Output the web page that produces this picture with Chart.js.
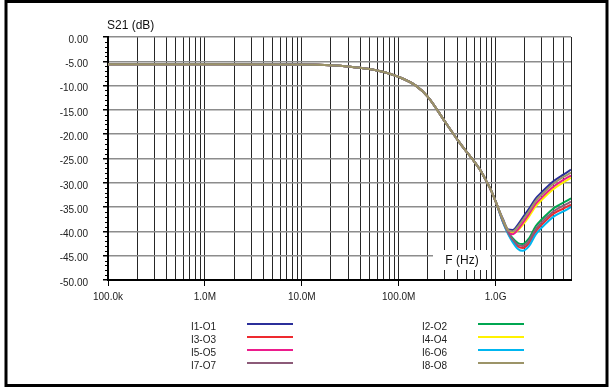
<!DOCTYPE html>
<html>
<head>
<meta charset="utf-8">
<script src="https://cdn.jsdelivr.net/npm/chart.js@4"></script>
<style>
  html, body { margin: 0; padding: 0; background: #fff; }
  #wrap { width: 613px; height: 388px; }
</style>
</head>
<body>
<div id="wrap"><canvas id="s21Chart" width="613" height="388"></canvas></div>
<script>
// frequency points (Hz)
const freqHz = [1e5, 1e6, 1e7, 2e7, 3e7, 5e7, 7e7, 1e8, 1.5e8, 2e8, 3e8, 4e8, 5e8, 6e8, 7e8, 8e8, 9e8, 1e9,
  1.1e9, 1.2e9, 1.35e9, 1.5e9, 1.7e9, 1.9e9, 2.2e9, 2.6e9, 3e9, 3.5e9, 4e9, 5e9, 6e9];

// S21 in dB for each path
const s21_I1O1 = [-5.6, -5.6, -5.65, -5.8, -6.05, -6.6, -7.2, -8.2, -10.0, -12.3, -17.4, -21.0, -23.6, -25.6, -27.5, -29.6, -31.6, -33.8,
  -35.9, -37.6, -39.6, -39.7, -38.6, -37.2, -35.4, -33.2, -31.9, -30.6, -29.6, -28.3, -27.3];
const s21_I2O2 = [-5.6, -5.6, -5.65, -5.8, -6.05, -6.6, -7.2, -8.2, -10.0, -12.3, -17.4, -21.0, -23.6, -25.6, -27.5, -29.6, -31.6, -33.8,
  -36.0, -38.0, -40.1, -41.4, -42.4, -42.6, -41.5, -38.9, -37.5, -36.2, -35.2, -34.1, -33.2];
const s21_I3O3 = [-5.6, -5.6, -5.65, -5.8, -6.05, -6.6, -7.2, -8.2, -10.0, -12.3, -17.4, -21.0, -23.6, -25.6, -27.5, -29.6, -31.6, -33.8,
  -36.1, -38.2, -40.4, -41.9, -43.1, -43.4, -42.5, -40.0, -38.6, -37.3, -36.3, -35.3, -34.5];
const s21_I4O4 = [-5.6, -5.6, -5.65, -5.8, -6.05, -6.6, -7.2, -8.2, -10.0, -12.3, -17.4, -21.0, -23.6, -25.6, -27.5, -29.6, -31.6, -33.8,
  -36.0, -37.9, -39.9, -40.3, -39.8, -38.7, -37.0, -34.8, -33.5, -32.2, -31.2, -29.9, -29.0];
const s21_I5O5 = [-5.6, -5.6, -5.65, -5.8, -6.05, -6.6, -7.2, -8.2, -10.0, -12.3, -17.4, -21.0, -23.6, -25.6, -27.5, -29.6, -31.6, -33.8,
  -36.1, -38.0, -40.1, -40.6, -39.6, -38.3, -36.5, -34.3, -33.0, -31.7, -30.7, -29.4, -28.5];
const s21_I6O6 = [-5.6, -5.6, -5.65, -5.8, -6.05, -6.6, -7.2, -8.2, -10.0, -12.3, -17.4, -21.0, -23.6, -25.6, -27.5, -29.6, -31.6, -33.8,
  -36.2, -38.3, -40.6, -42.2, -43.6, -44.0, -43.1, -40.6, -39.2, -37.9, -36.9, -35.9, -35.0];
const s21_I7O7 = [-5.6, -5.6, -5.65, -5.8, -6.05, -6.6, -7.2, -8.2, -10.0, -12.3, -17.4, -21.0, -23.6, -25.6, -27.5, -29.6, -31.6, -33.8,
  -36.1, -38.1, -40.3, -41.7, -42.8, -43.0, -42.0, -39.5, -38.1, -36.8, -35.8, -34.7, -33.9];
const s21_I8O8 = [-5.6, -5.6, -5.65, -5.8, -6.05, -6.6, -7.2, -8.2, -10.0, -12.3, -17.4, -21.0, -23.6, -25.6, -27.5, -29.6, -31.6, -33.8,
  -36.0, -37.8, -39.8, -40.0, -39.0, -37.7, -35.9, -33.7, -32.4, -31.1, -30.1, -28.8, -27.9];

const seriesLabels = ['I1-O1', 'I2-O2', 'I3-O3', 'I4-O4', 'I5-O5', 'I6-O6', 'I7-O7', 'I8-O8'];
const seriesValues = [s21_I1O1, s21_I2O2, s21_I3O3, s21_I4O4, s21_I5O5, s21_I6O6, s21_I7O7, s21_I8O8];
const seriesColors = ['#2b2f9a', '#00a651', '#ee2a2f', '#fff200', '#ec1c8c', '#00b6f0', '#8c5a78', '#9c9468'];

// x grid / tick positions and decade labels
const xGridValues = [1e5, 2e5, 3e5, 4e5, 5e5, 6e5, 7e5, 8e5, 9e5,
  1e6, 2e6, 3e6, 4e6, 5e6, 6e6, 7e6, 8e6, 9e6,
  1e7, 2e7, 3e7, 4e7, 5e7, 6e7, 7e7, 8e7, 9e7,
  1e8, 2e8, 3e8, 4e8, 5e8, 6e8, 7e8, 8e8, 9e8,
  1e9, 2e9, 3e9, 4e9, 5e9, 6e9];
const decadeValues = [1e5, 1e6, 1e7, 1e8, 1e9];
const decadeLabels = ['100.0k', '1.0M', '10.0M', '100.0M', '1.0G'];

const yMin = -50, yMax = 0, yStep = 5, yMinorStep = 1;

const FONT = '"Liberation Sans", Arial, Helvetica, sans-serif';

const datasets = seriesLabels.map((lab, i) => ({
  label: lab,
  data: freqHz.map((f, k) => ({ x: f, y: seriesValues[i][k] })),
  borderColor: seriesColors[i],
  backgroundColor: seriesColors[i],
  borderWidth: 2,
  pointRadius: 0,
  cubicInterpolationMode: 'monotone',
  fill: false,
  order: 8 - i
}));

const decor = {
  id: 'decor',
  afterDraw(chart) {
    const c = chart.ctx;
    const ys = chart.scales.y;
    const area = chart.chartArea;
    c.save();
    // minor y ticks
    c.strokeStyle = '#000';
    c.lineWidth = 1;
    for (let v = yMin; v <= yMax; v += yMinorStep) {
      if (v % yStep === 0) continue;
      const py = Math.round(ys.getPixelForValue(v)) + 0.5;
      c.beginPath();
      c.moveTo(area.left - 3, py);
      c.lineTo(area.left, py);
      c.stroke();
    }
    // y title
    c.fillStyle = '#111';
    c.font = '12px ' + FONT;
    c.textAlign = 'left';
    c.textBaseline = 'middle';
    c.fillText('S21 (dB)', 107, 26);
    // x title box
    c.fillStyle = '#fff';
    c.fillRect(433, 250, 57, 20);
    c.fillStyle = '#111';
    c.textAlign = 'center';
    c.fillText('F (Hz)', 462, 261);
    // legend
    c.font = '10px ' + FONT;
    c.textAlign = 'left';
    const colText = [191, 422], colLine = [247, 478], rowY = [324, 337, 350, 363];
    chart.data.datasets.forEach((ds, i) => {
      const col = i % 2, row = Math.floor(i / 2);
      c.fillStyle = '#222';
      c.fillText(ds.label, colText[col], rowY[row] + 3);
      c.strokeStyle = ds.borderColor;
      c.lineWidth = 2;
      c.beginPath();
      c.moveTo(colLine[col], rowY[row]);
      c.lineTo(colLine[col] + 46, rowY[row]);
      c.stroke();
    });
    // outer frame
    c.strokeStyle = '#000';
    c.lineWidth = 3;
    c.strokeRect(6, 1.5, 601, 384);
    c.restore();
  }
};

const ctx = document.getElementById('s21Chart');
new Chart(ctx, {
  type: 'line',
  data: { datasets: datasets },
  options: {
    responsive: false,
    animation: false,
    events: [],
    layout: { padding: { top: 37, right: 42, left: 0, bottom: 0 } },
    plugins: { legend: { display: false }, tooltip: { enabled: false } },
    scales: {
      x: {
        type: 'logarithmic',
        min: 1e5,
        max: 6e9,
        afterBuildTicks: (scale) => { scale.ticks = xGridValues.map(v => ({ value: v })); },
        afterFit: (scale) => { scale.height = 108; },
        ticks: {
          autoSkip: false,
          maxRotation: 0,
          padding: 5,
          color: '#222',
          font: { family: FONT, size: 10 },
          callback: (v) => {
            const k = decadeValues.indexOf(v);
            return k >= 0 ? decadeLabels[k] : '';
          }
        },
        grid: {
          color: '#262626',
          lineWidth: 1,
          tickLength: 6,
          tickColor: (c) => (c.tick && decadeValues.includes(c.tick.value)) ? '#000' : 'rgba(0,0,0,0)'
        },
        border: { color: '#000', width: 2 }
      },
      y: {
        min: yMin,
        max: yMax,
        afterFit: (scale) => { scale.width = 108; },
        ticks: {
          stepSize: yStep,
          padding: 15,
          color: '#222',
          font: { family: FONT, size: 10, lineHeight: 0.6 },
          // empty first line nudges the label a few pixels below its grid line
          callback: (v) => ['', Number(v).toFixed(2)]
        },
        grid: { color: '#8c8c8c', lineWidth: 1.5, tickLength: 5, tickColor: '#000' },
        border: { color: '#000', width: 2 }
      }
    }
  },
  plugins: [decor]
});
</script>
</body>
</html>
